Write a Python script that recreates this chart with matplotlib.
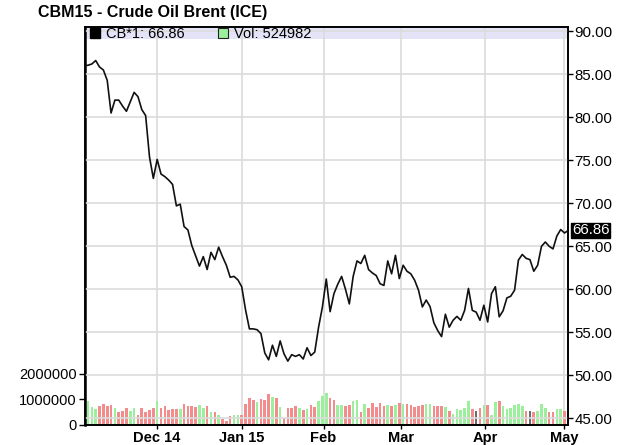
import matplotlib
matplotlib.use("Agg")
import matplotlib.pyplot as plt
from matplotlib.lines import Line2D
from matplotlib.patches import Rectangle

plt.rcParams['font.family'] = ['Liberation Sans', 'DejaVu Sans']

title = "CBM15 - Crude Oil Brent (ICE)"

# trading-day index of each price point (first one lies just left of the plot)
price_start = -1
price = [86.0, 86.05, 86.2, 86.6, 85.85, 85.5, 84.3, 80.5, 82.0, 82.0,
         81.3, 80.7, 81.8, 82.9, 82.4, 80.9, 80.2, 75.4, 72.9, 75.1,
         73.4, 73.1, 72.7, 72.2, 69.7, 69.9, 67.3, 66.9, 65.1, 63.9,
         62.7, 63.8, 62.3, 64.3, 63.45, 64.9, 63.8, 62.8, 61.4, 61.5,
         61.1, 60.3, 57.6, 55.4, 55.4, 55.3, 54.85, 52.6, 51.8, 53.5,
         52.2, 54.0, 52.5, 51.65, 52.4, 52.2, 52.4, 51.9, 53.2, 52.3,
         52.7, 55.6, 57.95, 61.2, 57.4, 59.5, 60.6, 61.5, 60.0, 58.3,
         61.5, 63.3, 63.0, 63.95, 62.3, 61.9, 61.6, 60.65, 60.45, 63.3,
         61.8, 63.95, 61.25, 62.8, 62.1, 61.8, 61.05, 59.9, 57.95, 58.75,
         58.0, 56.1, 55.2, 54.5, 57.1, 55.6, 56.4, 56.85, 56.4, 57.55,
         60.1, 57.55, 57.35, 56.4, 58.15, 56.2, 59.5, 60.3, 56.8, 57.5,
         59.0, 59.2, 59.9, 63.4, 64.05, 63.6, 63.45, 62.1, 62.8, 65.0,
         65.5, 65.0, 64.7, 66.2, 66.95, 66.55, 66.86]

# daily volume in millions of contracts
volume_m = [0.94, 0.68, 0.62, 0.72, 0.81, 0.74, 0.77, 0.65, 0.49, 0.53,
            0.65, 0.55, 0.64, 0.38, 0.65, 0.51, 0.59, 0.64, 0.94, 0.65,
            0.72, 0.58, 0.62, 0.62, 0.62, 0.82, 0.72, 0.72, 0.68, 0.78,
            0.65, 0.72, 0.51, 0.51, 0.38, 0.23, 0.14, 0.33, 0.38, 0.38,
            0.38, 0.81,
            1.03, 0.97, 0.87, 1.0, 0.97, 1.19, 1.09, 1.03, 0.71, 0.27,
            0.65, 0.65, 0.74, 0.65, 0.59, 0.62, 0.77, 0.68, 0.94, 1.13,
            1.26, 1.03, 0.97, 0.77, 0.77, 0.72, 0.77, 0.94, 0.97, 0.51,
            0.81, 0.65, 0.83, 0.68, 0.83, 0.72, 0.77, 0.72, 0.77, 0.83,
            0.81, 0.81,
            0.78, 0.68, 0.72, 0.77, 0.81, 0.81, 0.72, 0.72, 0.72, 0.71,
            0.55, 0.42, 0.62, 0.58, 0.65, 0.94, 0.62, 0.55, 0.65, 0.77,
            0.77, 0.38, 0.87, 0.94, 0.72, 0.62, 0.65, 0.77, 0.81, 0.72,
            0.55, 0.55, 0.51, 0.55, 0.81, 0.65, 0.49, 0.49, 0.62, 0.62,
            0.524982]
# bar colour code per day: g = up, r = down, k = unchanged
direction = list("gggrrrrgrrrggrrrrrgrrrrrgrrrrggrgrgrrrggrr"
                 "rrgrrrgrgrrrrgrgrrgggrrggrrggrgrrrrrgrgrgr"
                 "rrrrggrrrgrgggggrkrgrggrggggggrkrgggrrggr")
last_vol = 524982

month_labels = ["Dec 14", "Jan 15", "Feb", "Mar", "Apr", "May"]
month_pos = [18.0, 40.0, 61.3, 81.5, 103.4, 123.8]

price_ticks = [45, 50, 55, 60, 65, 70, 75, 80, 85, 90]
vol_ticks = [0, 1000000, 2000000]

colors = {'g': '#9cef9c', 'r': '#f38c8c', 'k': '#6a6a6a'}

volume = [v * 1e6 for v in volume_m]
n = min(len(volume), len(direction))

W, H = 632, 445
fig = plt.figure(figsize=(W / 100, H / 100), dpi=100)
L, R, T, B = 85, 568, 27, 424.5
axv = fig.add_axes([L / W, 1 - B / H, (R - L) / W, (B - T) / H])
axp = axv.twinx()

axv.bar(list(range(n)), volume[:n], width=0.68,
        color=[colors[c] for c in direction[:n]], zorder=2)
axv.set_ylim(0, 15.7e6)
axv.set_yticks(vol_ticks)
axv.set_yticklabels([str(v) for v in vol_ticks])
axv.set_xlim(-0.78, 124.9)
axv.set_xticks(month_pos)
axv.set_xticklabels(month_labels, fontweight='bold', fontsize=10.5)
axv.xaxis.grid(True, color='#dcdcdc', linewidth=1.2, zorder=1)
axv.set_axisbelow(True)
axv.tick_params(axis='x', length=3, width=1, pad=2, direction='out')
axv.tick_params(axis='y', length=4, width=1, labelsize=10.5, pad=2)

# legend band
axv.add_patch(Rectangle((0, 0.969), 1, 0.031, transform=axv.transAxes,
                        facecolor='#e4e4f8', edgecolor='none', zorder=0))

xs_price = [price_start + i for i in range(len(price))]
axp.plot(xs_price, price, color='#111111', linewidth=1.2, zorder=3)
axp.set_ylim(44.28, 90.5)
axp.set_yticks(price_ticks)
axp.set_yticklabels([f"{v:.2f}" for v in price_ticks])
axp.yaxis.grid(True, color='#dcdcdc', linewidth=1.2)
axp.tick_params(axis='y', length=3.5, width=1, labelsize=10.8, pad=1)

for a in (axv, axp):
    for s in a.spines.values():
        s.set_color('black')
        s.set_linewidth(1.2)
axv.spines['left'].set_linewidth(1.8)

axp.annotate(f"{price[-1]:.2f}", xy=(1, price[-1]),
             xycoords=('axes fraction', 'data'), xytext=(3, 0),
             textcoords='offset points', va='center', ha='left',
             color='white', fontsize=10.8,
             bbox=dict(boxstyle='square,pad=0.05', facecolor='black',
                       edgecolor='black'))

handles = [Line2D([], [], linestyle='none', marker='s', markersize=6.5,
                  markerfacecolor='black', markeredgecolor='black'),
           Line2D([], [], linestyle='none', marker='s', markersize=6.5,
                  markerfacecolor='#9cef9c', markeredgecolor='#222222',
                  markeredgewidth=0.8)]
labels = [f"CB*1: {price[-1]:.2f}", f"Vol: {last_vol}"]
axp.legend(handles, labels, loc='upper left', ncol=2, frameon=False,
           fontsize=10.5, handlelength=0.6, handletextpad=0.45,
           columnspacing=2.3, borderaxespad=0, borderpad=0,
           bbox_to_anchor=(0.012, 1.0))

fig.text(38 / W, 1 - 13 / H, title, fontsize=11.5, fontweight='bold',
         ha='left', va='center')

fig.savefig("out.png", dpi=100)
